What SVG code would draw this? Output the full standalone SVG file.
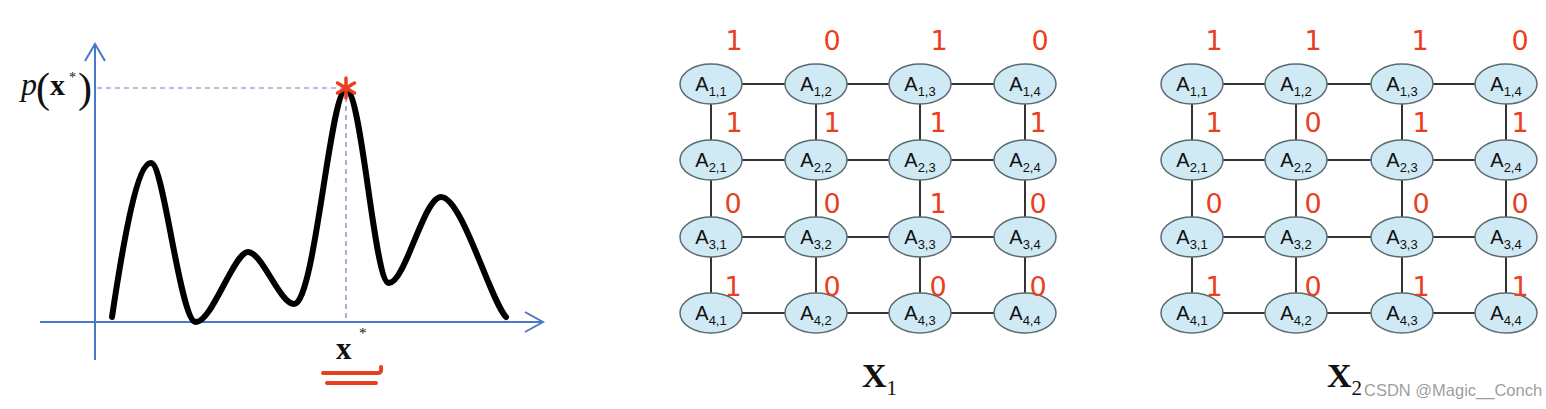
<svg xmlns="http://www.w3.org/2000/svg" width="1546" height="409" viewBox="0 0 1546 409">
<style>
.axis{stroke:#4a78c8;stroke-width:2;fill:none}
.dash{stroke:#6a80b0;stroke-width:1.2;stroke-dasharray:5 4;fill:none}
.curve{stroke:#000;stroke-width:6;fill:none;stroke-linecap:round;stroke-linejoin:round}
.edge{stroke:#333;stroke-width:2;fill:none}
.node ellipse{fill:#cfeaf5;stroke:#5c6b70;stroke-width:1.5}
.node text{font-family:"Liberation Sans",Arial,sans-serif;font-size:20px;fill:#111;text-anchor:middle}
.node tspan{font-size:13px}
.lbl{font-family:"DejaVu Sans","Liberation Sans",sans-serif;font-size:27px;fill:#e8401f;text-anchor:middle}
.serif{font-family:"Liberation Serif","Times New Roman",serif;fill:#111}
.red{stroke:#e8401f;stroke-width:4;fill:none;stroke-linecap:round}
</style>
<rect width="1546" height="409" fill="#fff"/>
<g id="plot">
<line class="axis" x1="95" y1="360" x2="95" y2="44"/>
<polyline class="axis" points="85,61 95,44 105,61"/>
<line class="axis" x1="40" y1="322" x2="543" y2="322"/>
<polyline class="axis" points="525,312 543,322 525,332"/>
<line class="dash" x1="97" y1="88" x2="346" y2="88"/>
<line class="dash" x1="346" y1="88" x2="346" y2="322"/>
<path class="curve" d="M112,317 C125,230 138,163 151,163 C164,163 180,322 196,322 C212,322 234,252 248,252 C262,252 280,304 294,304 C315,304 330,90 346,90 C362,90 374,283 389,283 C405,283 424,197 441,197 C462,197 490,300 506,317"/>
<g stroke="#e8401f" stroke-width="3.5" stroke-linecap="round">
<line x1="346" y1="78" x2="346" y2="98"/>
<line x1="337.5" y1="83" x2="354.5" y2="93"/>
<line x1="337.5" y1="93" x2="354.5" y2="83"/>
</g>
<text class="serif" x="21" y="95" font-size="32" font-style="italic">p</text>
<text class="serif" x="36" y="102" font-size="42">(</text>
<text class="serif" x="50" y="95" font-size="30" font-weight="bold">x</text>
<text class="serif" x="69" y="82" font-size="14">*</text>
<text class="serif" x="78" y="102" font-size="42">)</text>
<text class="serif" x="336" y="359" font-size="31" font-weight="bold">x</text>
<text class="serif" x="359" y="338" font-size="15">*</text>
<path class="red" d="M323,373 L378,373 Q382,373 381,367"/>
<line class="red" x1="327" y1="383" x2="376" y2="383"/>
</g>
<g id="connectors">
<g class="edge">
<path d="M742,84H785M847,84H889M951,84H994M742,160H785M847,160H889M951,160H994M742,237H785M847,237H889M951,237H994M742,313H785M847,313H889M951,313H994"/>
<path d="M711,104V140M816,104V140M920,104V140M1025,104V140M711,180V217M816,180V217M920,180V217M1025,180V217M711,257V293M816,257V293M920,257V293M1025,257V293"/>
<path d="M1223,84H1265M1327,84H1371M1433,84H1475M1223,160H1265M1327,160H1371M1433,160H1475M1223,237H1265M1327,237H1371M1433,237H1475M1223,313H1265M1327,313H1371M1433,313H1475"/>
<path d="M1192,104V140M1296,104V140M1402,104V140M1506,104V140M1192,180V217M1296,180V217M1402,180V217M1506,180V217M1192,257V293M1296,257V293M1402,257V293M1506,257V293"/>
</g>
</g>
<g id="grid1">
<g id="g1n11" class="node"><ellipse cx="711" cy="84" rx="31" ry="20"/><text x="711" y="91">A<tspan dy="5">1,1</tspan></text></g>
<g id="g1n12" class="node"><ellipse cx="816" cy="84" rx="31" ry="20"/><text x="816" y="91">A<tspan dy="5">1,2</tspan></text></g>
<g id="g1n13" class="node"><ellipse cx="920" cy="84" rx="31" ry="20"/><text x="920" y="91">A<tspan dy="5">1,3</tspan></text></g>
<g id="g1n14" class="node"><ellipse cx="1025" cy="84" rx="31" ry="20"/><text x="1025" y="91">A<tspan dy="5">1,4</tspan></text></g>
<g id="g1n21" class="node"><ellipse cx="711" cy="160" rx="31" ry="20"/><text x="711" y="167">A<tspan dy="5">2,1</tspan></text></g>
<g id="g1n22" class="node"><ellipse cx="816" cy="160" rx="31" ry="20"/><text x="816" y="167">A<tspan dy="5">2,2</tspan></text></g>
<g id="g1n23" class="node"><ellipse cx="920" cy="160" rx="31" ry="20"/><text x="920" y="167">A<tspan dy="5">2,3</tspan></text></g>
<g id="g1n24" class="node"><ellipse cx="1025" cy="160" rx="31" ry="20"/><text x="1025" y="167">A<tspan dy="5">2,4</tspan></text></g>
<g id="g1n31" class="node"><ellipse cx="711" cy="237" rx="31" ry="20"/><text x="711" y="244">A<tspan dy="5">3,1</tspan></text></g>
<g id="g1n32" class="node"><ellipse cx="816" cy="237" rx="31" ry="20"/><text x="816" y="244">A<tspan dy="5">3,2</tspan></text></g>
<g id="g1n33" class="node"><ellipse cx="920" cy="237" rx="31" ry="20"/><text x="920" y="244">A<tspan dy="5">3,3</tspan></text></g>
<g id="g1n34" class="node"><ellipse cx="1025" cy="237" rx="31" ry="20"/><text x="1025" y="244">A<tspan dy="5">3,4</tspan></text></g>
<g id="g1n41" class="node"><ellipse cx="711" cy="313" rx="31" ry="20"/><text x="711" y="320">A<tspan dy="5">4,1</tspan></text></g>
<g id="g1n42" class="node"><ellipse cx="816" cy="313" rx="31" ry="20"/><text x="816" y="320">A<tspan dy="5">4,2</tspan></text></g>
<g id="g1n43" class="node"><ellipse cx="920" cy="313" rx="31" ry="20"/><text x="920" y="320">A<tspan dy="5">4,3</tspan></text></g>
<g id="g1n44" class="node"><ellipse cx="1025" cy="313" rx="31" ry="20"/><text x="1025" y="320">A<tspan dy="5">4,4</tspan></text></g>
</g>
<g id="grid2">
<g id="g2n11" class="node"><ellipse cx="1192" cy="84" rx="31" ry="20"/><text x="1192" y="91">A<tspan dy="5">1,1</tspan></text></g>
<g id="g2n12" class="node"><ellipse cx="1296" cy="84" rx="31" ry="20"/><text x="1296" y="91">A<tspan dy="5">1,2</tspan></text></g>
<g id="g2n13" class="node"><ellipse cx="1402" cy="84" rx="31" ry="20"/><text x="1402" y="91">A<tspan dy="5">1,3</tspan></text></g>
<g id="g2n14" class="node"><ellipse cx="1506" cy="84" rx="31" ry="20"/><text x="1506" y="91">A<tspan dy="5">1,4</tspan></text></g>
<g id="g2n21" class="node"><ellipse cx="1192" cy="160" rx="31" ry="20"/><text x="1192" y="167">A<tspan dy="5">2,1</tspan></text></g>
<g id="g2n22" class="node"><ellipse cx="1296" cy="160" rx="31" ry="20"/><text x="1296" y="167">A<tspan dy="5">2,2</tspan></text></g>
<g id="g2n23" class="node"><ellipse cx="1402" cy="160" rx="31" ry="20"/><text x="1402" y="167">A<tspan dy="5">2,3</tspan></text></g>
<g id="g2n24" class="node"><ellipse cx="1506" cy="160" rx="31" ry="20"/><text x="1506" y="167">A<tspan dy="5">2,4</tspan></text></g>
<g id="g2n31" class="node"><ellipse cx="1192" cy="237" rx="31" ry="20"/><text x="1192" y="244">A<tspan dy="5">3,1</tspan></text></g>
<g id="g2n32" class="node"><ellipse cx="1296" cy="237" rx="31" ry="20"/><text x="1296" y="244">A<tspan dy="5">3,2</tspan></text></g>
<g id="g2n33" class="node"><ellipse cx="1402" cy="237" rx="31" ry="20"/><text x="1402" y="244">A<tspan dy="5">3,3</tspan></text></g>
<g id="g2n34" class="node"><ellipse cx="1506" cy="237" rx="31" ry="20"/><text x="1506" y="244">A<tspan dy="5">3,4</tspan></text></g>
<g id="g2n41" class="node"><ellipse cx="1192" cy="313" rx="31" ry="20"/><text x="1192" y="320">A<tspan dy="5">4,1</tspan></text></g>
<g id="g2n42" class="node"><ellipse cx="1296" cy="313" rx="31" ry="20"/><text x="1296" y="320">A<tspan dy="5">4,2</tspan></text></g>
<g id="g2n43" class="node"><ellipse cx="1402" cy="313" rx="31" ry="20"/><text x="1402" y="320">A<tspan dy="5">4,3</tspan></text></g>
<g id="g2n44" class="node"><ellipse cx="1506" cy="313" rx="31" ry="20"/><text x="1506" y="320">A<tspan dy="5">4,4</tspan></text></g>
</g>
<g id="labels1" class="lbl">
<text x="734" y="50">1</text><text x="832" y="50">0</text><text x="939" y="50">1</text><text x="1040" y="50">0</text>
<text x="734" y="132">1</text><text x="832" y="132">1</text><text x="938" y="132">1</text><text x="1038" y="132">1</text>
<text x="733" y="213">0</text><text x="832" y="213">0</text><text x="938" y="213">1</text><text x="1038" y="213">0</text>
<text x="733" y="296">1</text><text x="832" y="296">0</text><text x="938" y="296">0</text><text x="1038" y="296">0</text>
</g>
<g id="labels2" class="lbl">
<text x="1214" y="50">1</text><text x="1313" y="50">1</text><text x="1420" y="50">1</text><text x="1520" y="50">0</text>
<text x="1214" y="132">1</text><text x="1313" y="132">0</text><text x="1421" y="132">1</text><text x="1520" y="132">1</text>
<text x="1214" y="213">0</text><text x="1313" y="213">0</text><text x="1421" y="213">0</text><text x="1520" y="213">0</text>
<text x="1214" y="296">1</text><text x="1313" y="296">0</text><text x="1421" y="296">1</text><text x="1520" y="296">1</text>
</g>
<text class="serif" x="862" y="387" font-size="34" font-weight="bold">X<tspan font-size="21" font-weight="normal" dy="8">1</tspan></text>
<text class="serif" x="1327" y="387" font-size="34" font-weight="bold">X<tspan font-size="21" font-weight="normal" dy="8">2</tspan></text>
<text x="1364" y="396" font-family="'Liberation Sans',Arial,sans-serif" font-size="16.5" fill="#8a8a8a" fill-opacity="0.85">CSDN @Magic__Conch</text>
</svg>
